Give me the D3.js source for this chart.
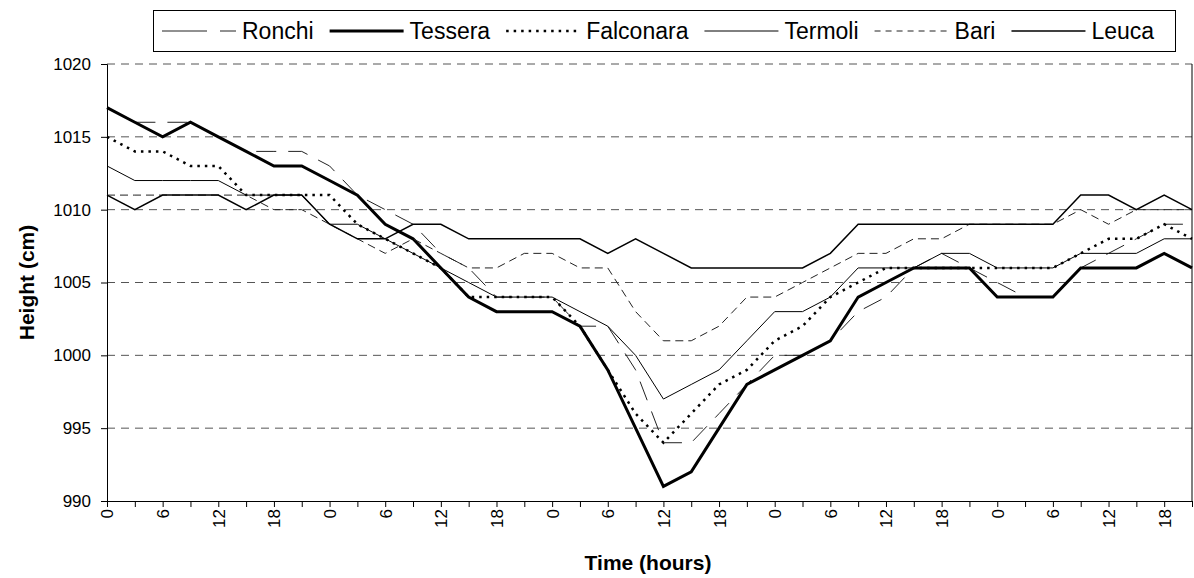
<!DOCTYPE html>
<html>
<head>
<meta charset="utf-8">
<script src="https://cdn.jsdelivr.net/npm/d3@7"></script>
<style>
  body { margin: 0; background: #fff; }
  svg { font-family: "Liberation Sans", Arial, sans-serif; }
</style>
</head>
<body>
<svg id="chart" width="1194" height="578"></svg>
<script>
// time of day for each 3-hourly reading, five days
const hours = [0,3,6,9,12,15,18,21, 0,3,6,9,12,15,18,21, 0,3,6,9,12,15,18,21,
               0,3,6,9,12,15,18,21, 0,3,6,9,12,15,18,21];

const ronchi    = [1017,1016,1016,1016,1015,1014,1014,1014,1013,1011,1010,1009,1007,1006,1004,1004,1004,1002,1002,999,
                   994,994,996,998,1000,1000,1001,1003,1004,1006,1007,1006,1005,1004,1004,1006,1007,1008,1009,1009];
const tessera   = [1017,1016,1015,1016,1015,1014,1013,1013,1012,1011,1009,1008,1006,1004,1003,1003,1003,1002,999,995,
                   991,992,995,998,999,1000,1001,1004,1005,1006,1006,1006,1004,1004,1004,1006,1006,1006,1007,1006];
const falconara = [1015,1014,1014,1013,1013,1011,1011,1011,1011,1009,1008,1007,1006,1004,1004,1004,1004,1002,999,996,
                   994,996,998,999,1001,1002,1004,1005,1006,1006,1006,1006,1006,1006,1006,1007,1008,1008,1009,1008];
const termoli   = [1013,1012,1012,1012,1012,1011,1011,1011,1009,1009,1008,1007,1006,1005,1004,1004,1004,1003,1002,1000,
                   997,998,999,1001,1003,1003,1004,1006,1006,1006,1007,1007,1006,1006,1006,1007,1007,1007,1008,1008];
const bari      = [1011,1011,1011,1011,1011,1011,1010,1010,1009,1008,1007,1008,1007,1006,1006,1007,1007,1006,1006,1003,
                   1001,1001,1002,1004,1004,1005,1006,1007,1007,1008,1008,1009,1009,1009,1009,1010,1009,1010,1010,1010];
const leuca     = [1011,1010,1011,1011,1011,1010,1011,1011,1009,1008,1008,1009,1009,1008,1008,1008,1008,1008,1007,1008,
                   1007,1006,1006,1006,1006,1006,1007,1009,1009,1009,1009,1009,1009,1009,1009,1011,1011,1010,1011,1010];

const stations = ["Ronchi", "Tessera", "Falconara", "Termoli", "Bari", "Leuca"];
const yTicks = [990, 995, 1000, 1005, 1010, 1015, 1020];

const seriesData = [ronchi, tessera, falconara, termoli, bari, leuca];

// line look per station: width, dash in plot, dash in legend, colour
const looks = {
    "Ronchi":    {w: 1,   dash: "20,12", legDash: "45,13,17,200", col: "#222"},
    "Tessera":   {w: 3,   dash: null,    legDash: null,           col: "#000"},
    "Falconara": {w: 2.5, dash: "2.5,5", legDash: "2.5,5",        col: "#000"},
    "Termoli":   {w: 1,   dash: null,    legDash: null,           col: "#000"},
    "Bari":      {w: 1,   dash: "8,5",   legDash: "6,5",          col: "#222"},
    "Leuca":     {w: 1.5, dash: null,    legDash: null,           col: "#000"}
};

const svg = d3.select("#chart");
const plotLeft = 107, plotRight = 1192, plotTop = 64, plotBottom = 501;

const x = d3.scaleLinear().domain([0, hours.length - 1]).range([plotLeft, plotRight]);
const y = d3.scaleLinear().domain([990, 1020]).range([plotBottom, plotTop]);

// dashed grid lines
svg.append("g")
    .selectAll("line")
    .data(yTicks.filter(d => d > 990))
    .enter().append("line")
        .attr("x1", plotLeft).attr("x2", plotRight)
        .attr("y1", d => y(d)).attr("y2", d => y(d))
        .attr("stroke", "#555")
        .attr("stroke-width", 1)
        .attr("stroke-dasharray", "8,6");

// right border of the plot
svg.append("line")
    .attr("x1", plotRight).attr("x2", plotRight)
    .attr("y1", plotTop).attr("y2", plotBottom)
    .attr("stroke", "#000");

// y axis
const yAxis = svg.append("g")
    .attr("transform", "translate(" + plotLeft + ",0)")
    .call(d3.axisLeft(y).tickValues(yTicks).tickSize(6).tickPadding(10).tickFormat(d3.format("d")));
yAxis.selectAll("text").style("font-size", "17px").attr("fill", "#000");
yAxis.selectAll("line, path").attr("stroke", "#000");

// x axis, a tick on every reading, a label on every second one
const idx = d3.range(hours.length);
const xAxis = svg.append("g")
    .attr("transform", "translate(0," + plotBottom + ")")
    .call(d3.axisBottom(x).tickValues(idx).tickSize(6).tickSizeOuter(0)
        .tickFormat(i => i % 2 === 0 ? hours[i] : ""));
xAxis.selectAll("line, path").attr("stroke", "#000");
xAxis.selectAll("text")
    .style("font-size", "17px")
    .attr("fill", "#000")
    .attr("text-anchor", "end")
    .attr("transform", "rotate(-90)")
    .attr("x", -8)
    .attr("y", 0)
    .attr("dy", "0.35em");

// station lines
const line = d3.line()
    .x((d, i) => x(i))
    .y(d => y(d));

svg.append("g")
    .selectAll("path")
    .data(stations)
    .enter().append("path")
        .attr("d", (s, k) => line(seriesData[k]))
        .attr("fill", "none")
        .attr("stroke", s => looks[s].col)
        .attr("stroke-width", s => looks[s].w)
        .attr("stroke-dasharray", s => looks[s].dash)
        .attr("stroke-linejoin", "miter");

// axis titles
svg.append("text")
    .attr("transform", "translate(27," + ((plotTop + plotBottom) / 2) + ") rotate(-90)")
    .attr("text-anchor", "middle")
    .attr("dy", "0.35em")
    .style("font-size", "21px")
    .style("font-weight", "bold")
    .text("Height (cm)");

svg.append("text")
    .attr("x", 648)
    .attr("y", 570)
    .attr("text-anchor", "middle")
    .style("font-size", "21px")
    .style("font-weight", "bold")
    .text("Time (hours)");

// legend box along the top
const legend = svg.append("g");
legend.append("rect")
    .attr("x", 153.5).attr("y", 10.5)
    .attr("width", 1022).attr("height", 41)
    .attr("fill", "#fff")
    .attr("stroke", "#000");

let lx = 162;
stations.forEach(function(s) {
    const L = looks[s];
    legend.append("line")
        .attr("x1", lx).attr("x2", lx + 74)
        .attr("y1", 31).attr("y2", 31)
        .attr("stroke", L.col)
        .attr("stroke-width", L.w)
        .attr("stroke-dasharray", L.legDash);
    const t = legend.append("text")
        .attr("x", lx + 80)
        .attr("y", 31)
        .attr("dy", "0.35em")
        .style("font-size", "23px")
        .text(s);
    lx += 80 + t.node().getComputedTextLength() + 16;
});
</script>
</body>
</html>
